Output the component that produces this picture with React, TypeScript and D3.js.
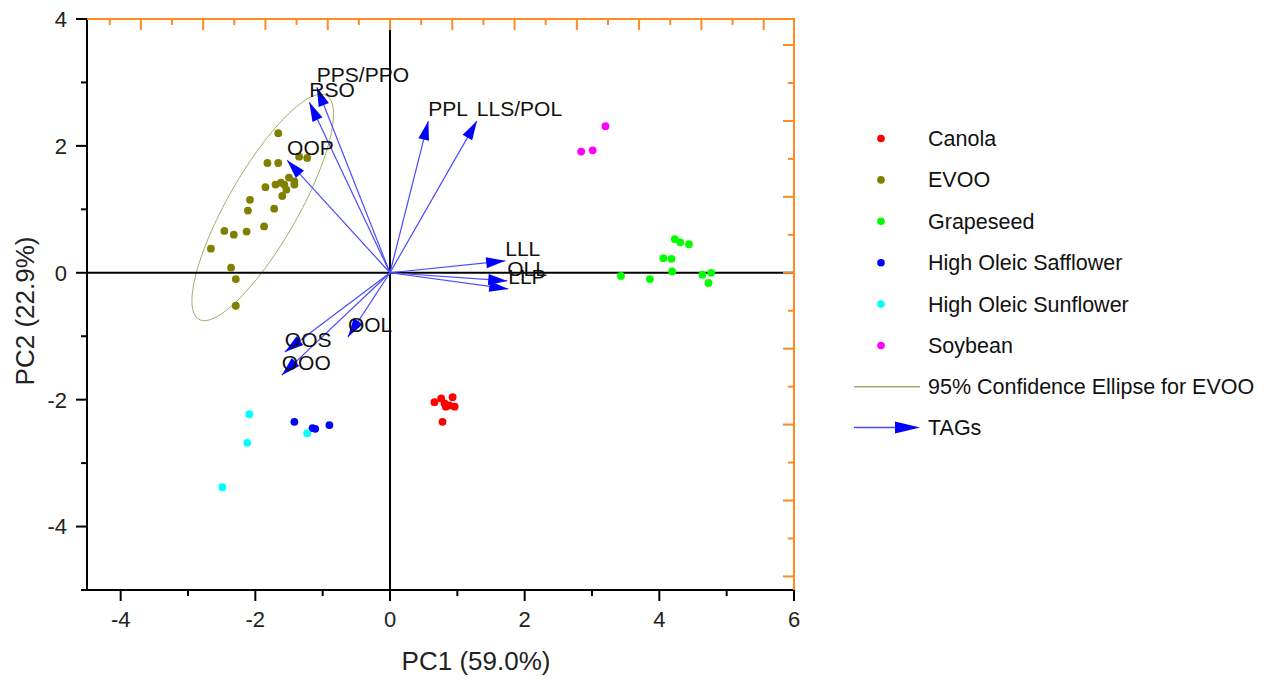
import React from "react";
import * as d3 from "d3";

// PCA scores (PC1, PC2) for each oil
const canola: [number, number][] = [
  [0.66, -2.04], [0.76, -1.98], [0.81, -2.06], [0.83, -2.11],
  [0.93, -1.96], [0.96, -2.11], [0.88, -2.09], [0.78, -2.35],
];
const evoo: [number, number][] = [
  [-1.66, 2.2], [-1.82, 1.73], [-1.66, 1.73], [-1.35, 1.83], [-1.23, 1.81],
  [-1.42, 1.44], [-1.7, 1.39], [-1.62, 1.42], [-1.57, 1.39], [-1.85, 1.35],
  [-1.6, 1.21], [-1.42, 1.39], [-1.5, 1.5], [-1.54, 1.31], [-2.08, 1.15],
  [-2.11, 0.98], [-1.72, 1.01], [-2.46, 0.66], [-2.32, 0.6], [-2.13, 0.65],
  [-1.87, 0.73], [-2.66, 0.38], [-2.36, 0.08], [-2.29, -0.1], [-2.29, -0.52],
];
const grapeseed: [number, number][] = [
  [3.43, -0.05], [3.86, -0.1], [4.06, 0.23], [4.18, 0.22], [4.23, 0.53],
  [4.31, 0.48], [4.44, 0.45], [4.19, 0.02], [4.64, -0.03], [4.77, 0.0],
  [4.73, -0.16],
];
const safflower: [number, number][] = [
  [-1.42, -2.35], [-1.15, -2.45], [-1.11, -2.46], [-0.9, -2.4],
];
const sunflower: [number, number][] = [
  [-2.09, -2.23], [-2.12, -2.68], [-2.49, -3.38], [-1.23, -2.53],
];
const soybean: [number, number][] = [
  [3.2, 2.31], [2.84, 1.91], [3.01, 1.93],
];

const groupNames = [
  "Canola", "EVOO", "Grapeseed", "High Oleic Safflower", "High Oleic Sunflower", "Soybean",
];
const groupColors = ["#ff0000", "#808000", "#00ff00", "#0000ff", "#00ffff", "#ff00ff"];
const groupPoints = [canola, evoo, grapeseed, safflower, sunflower, soybean];

// TAG loadings on the top/right (loading) axes
const tagNames = ["PPS/PPO", "RSO", "OOP", "PPL", "LLS/POL", "LLL", "OLL", "LLP", "OOS", "OOO", "OOL"];
const tagPC1 = [-0.1175, -0.1295, -0.1652, 0.0616, 0.1395, 0.185, 0.1883, 0.1899, -0.1689, -0.1738, -0.0676];
const tagPC2 = [0.2443, 0.2245, 0.1483, 0.1998, 0.1998, 0.0157, -0.0107, -0.0213, -0.1045, -0.1349, -0.0847];

// 95% confidence ellipse for EVOO: centre and two conjugate semi-axes (score units)
const ellipseCenter: [number, number] = [-1.89, 1.03];
const ellipseAxisA: [number, number] = [0.949, 1.763];
const ellipseAxisB: [number, number] = [-0.453, 0.276];

const xTicks = [-4, -2, 0, 2, 4, 6];
const xMinor = [-3, -1, 1, 3, 5];
const yTicks = [-4, -2, 0, 2, 4];
const yMinor = [-5, -3, -1, 1, 3];
const topMajor = [-0.4, -0.3, -0.2, -0.1, 0, 0.1, 0.2, 0.3, 0.4, 0.5, 0.6];
const topMinor = [-0.45, -0.35, -0.25, -0.15, -0.05, 0.05, 0.15, 0.25, 0.35, 0.45, 0.55];
const rightMajor = [-0.4, -0.3, -0.2, -0.1, 0, 0.1, 0.2, 0.3];
const rightMinor = [-0.35, -0.25, -0.15, -0.05, 0.05, 0.15, 0.25];

const FONT = "'Liberation Sans', Arial, sans-serif";
const ORANGE = "#ff8a1f";
const ARROW = "#0000ff";

const W = 1272, H = 681;
const L = 87, R = 794, T = 19, B = 590;

function arrowHead(x1: number, y1: number, x2: number, y2: number, len: number, hw: number) {
  const a = Math.atan2(y2 - y1, x2 - x1);
  const bx = x2 - len * Math.cos(a), by = y2 - len * Math.sin(a);
  const px = -Math.sin(a) * hw, py = Math.cos(a) * hw;
  return `M${x2},${y2}L${bx + px},${by + py}L${bx - px},${by - py}Z`;
}

export default function App() {
  const x = d3.scaleLinear().domain([-4.5, 6]).range([L, R]);
  const y = d3.scaleLinear().domain([-5, 4]).range([B, T]);
  const lx = d3.scaleLinear().domain([-0.4865, 0.6487]).range([L, R]);
  const ly = d3.scaleLinear().domain([-0.4179, 0.3343]).range([B, T]);

  const ellipsePts = d3.range(0, 361, 3).map((deg) => {
    const t = (deg * Math.PI) / 180;
    const ex = ellipseCenter[0] + ellipseAxisA[0] * Math.cos(t) + ellipseAxisB[0] * Math.sin(t);
    const ey = ellipseCenter[1] + ellipseAxisA[1] * Math.cos(t) + ellipseAxisB[1] * Math.sin(t);
    return [x(ex), y(ey)] as [number, number];
  });
  const ellipsePath = d3.line()(ellipsePts) + "Z";

  const legendY0 = 138.5;
  const legendStep = 41.4;

  return (
    <svg
      width={W}
      height={H}
      style={{ position: "absolute", left: 0, top: 0, display: "block", background: "#fff" }}
      fontFamily={FONT}
    >
      <rect width={W} height={H} fill="#fff" />

      {/* confidence ellipse */}
      <path d={ellipsePath} fill="none" stroke="#a9a96b" strokeWidth={1} />

      {/* zero lines */}
      <line x1={L} x2={R} y1={y(0)} y2={y(0)} stroke="#000" strokeWidth={2} />
      <line x1={x(0)} x2={x(0)} y1={T} y2={B} stroke="#000" strokeWidth={2} />

      {/* score points */}
      {groupPoints.map((pts, gi) =>
        pts.map((p, i) => (
          <circle key={`${gi}-${i}`} cx={x(p[0])} cy={y(p[1])} r={3.9} fill={groupColors[gi]} />
        ))
      )}

      {/* TAG loading vectors */}
      {tagNames.map((name, i) => {
        const x0 = lx(0), y0 = ly(0);
        const x1 = lx(tagPC1[i]), y1 = ly(tagPC2[i]);
        return (
          <g key={name}>
            <line x1={x0} y1={y0} x2={x1} y2={y1} stroke="#4a4aff" strokeWidth={1.2} />
            <path d={arrowHead(x0, y0, x1, y1, 19, 5.5)} fill={ARROW} />
          </g>
        );
      })}
      {tagNames.map((name, i) => (
        <text key={name} x={lx(tagPC1[i])} y={ly(tagPC2[i]) - 5} fontSize={21} fill="#111">
          {name}
        </text>
      ))}

      {/* left axis */}
      <line x1={L} x2={L} y1={T - 1} y2={B + 1} stroke="#000" strokeWidth={2} />
      {yTicks.map((v) => (
        <g key={v}>
          <line x1={L - 11} x2={L} y1={y(v)} y2={y(v)} stroke="#000" strokeWidth={2} />
          <text x={67} y={y(v)} dy="0.36em" textAnchor="end" fontSize={22} fill="#222">{v}</text>
        </g>
      ))}
      {yMinor.map((v) => (
        <line key={v} x1={L - 6} x2={L} y1={y(v)} y2={y(v)} stroke="#000" strokeWidth={2} />
      ))}

      {/* bottom axis */}
      <line x1={L - 1} x2={R + 1} y1={B} y2={B} stroke="#000" strokeWidth={2} />
      {xTicks.map((v) => (
        <g key={v}>
          <line x1={x(v)} x2={x(v)} y1={B} y2={B + 11} stroke="#000" strokeWidth={2} />
          <text x={x(v)} y={627} textAnchor="middle" fontSize={22} fill="#222">{v}</text>
        </g>
      ))}
      {xMinor.map((v) => (
        <line key={v} x1={x(v)} x2={x(v)} y1={B} y2={B + 6} stroke="#000" strokeWidth={2} />
      ))}

      {/* top (loading) axis */}
      <line x1={L} x2={R + 1} y1={T} y2={T} stroke={ORANGE} strokeWidth={2} />
      {topMajor.map((v) => (
        <line key={v} x1={lx(v)} x2={lx(v)} y1={T} y2={T + 11} stroke={ORANGE} strokeWidth={2} />
      ))}
      {topMinor.map((v) => (
        <line key={v} x1={lx(v)} x2={lx(v)} y1={T} y2={T + 6} stroke={ORANGE} strokeWidth={2} />
      ))}

      {/* right (loading) axis */}
      <line x1={R} x2={R} y1={T - 1} y2={B} stroke={ORANGE} strokeWidth={2} />
      {rightMajor.map((v) => (
        <line key={v} x1={R - 11} x2={R} y1={ly(v)} y2={ly(v)} stroke={ORANGE} strokeWidth={2} />
      ))}
      {rightMinor.map((v) => (
        <line key={v} x1={R - 6} x2={R} y1={ly(v)} y2={ly(v)} stroke={ORANGE} strokeWidth={2} />
      ))}

      {/* axis titles */}
      <text x={476} y={670} textAnchor="middle" fontSize={26} fill="#222">PC1 (59.0%)</text>
      <text transform="translate(34,311) rotate(-90)" textAnchor="middle" fontSize={26} fill="#222">
        PC2 (22.9%)
      </text>

      {/* legend */}
      {groupNames.map((name, i) => (
        <g key={name}>
          <circle cx={881} cy={legendY0 + i * legendStep} r={3.8} fill={groupColors[i]} />
          <text x={928} y={legendY0 + i * legendStep + 7.5} fontSize={21.5} fill="#111">{name}</text>
        </g>
      ))}
      <line x1={854} x2={920} y1={386.7} y2={386.7} stroke="#a9a96b" strokeWidth={1.5} />
      <text x={928} y={386.7 + 7.5} fontSize={21.5} fill="#111">95% Confidence Ellipse for EVOO</text>
      <line x1={854} x2={898} y1={427.5} y2={427.5} stroke="#4a4aff" strokeWidth={1.5} />
      <path d={arrowHead(854, 427.5, 920, 427.5, 25, 6)} fill={ARROW} />
      <text x={928} y={427.5 + 7.5} fontSize={21.5} fill="#111">TAGs</text>
    </svg>
  );
}
